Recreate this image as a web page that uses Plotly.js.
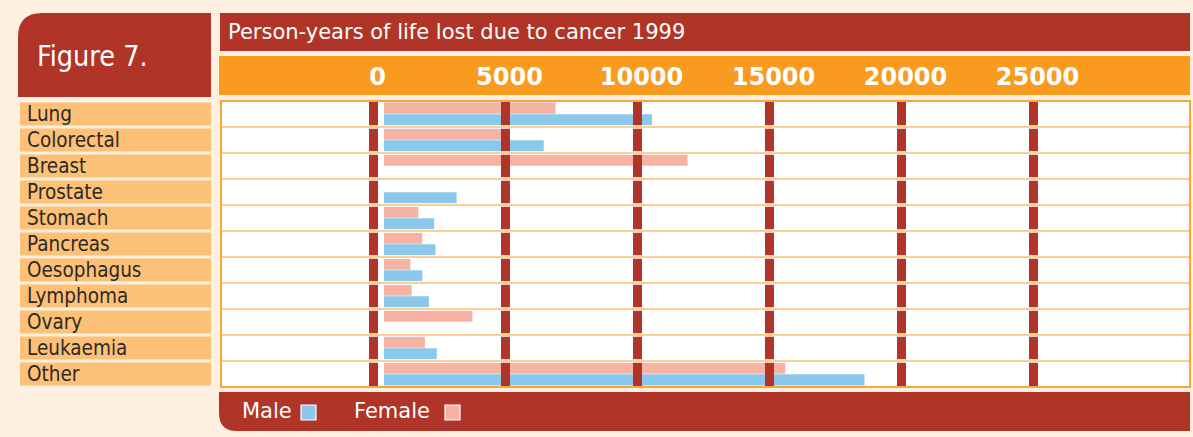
<!DOCTYPE html>
<html><head><meta charset="utf-8">
<script src="https://cdn.plot.ly/plotly-3.0.1.min.js"></script>
<style>html,body{margin:0;padding:0;background:#FDF0E1;}#chart{width:1193px;height:437px;}</style>
</head><body><div id="chart"></div>
<script>
// ---- data ----
const categories = ['Lung','Colorectal','Breast','Prostate','Stomach','Pancreas','Oesophagus','Lymphoma','Ovary','Leukaemia','Other'];
const femaleValues = [6500, 4500, 11500, null, 1300, 1450, 1000, 1050, 3350, 1550, 15200];
const maleValues   = [10150, 6050, null, 2750, 1900, 1950, 1450, 1700, null, 2000, 18200];
const tickValues = [0, 5000, 10000, 15000, 20000, 25000];
const tickLabels = ['0', '5000', '10000', '15000', '20000', '25000'];
const seriesNames = ['Male', 'Female'];
const chartTitle = 'Person-years of life lost due to cancer 1999';
const figureLabel = 'Figure 7.';

// ---- styling / geometry ----
const RED = '#B03427', ORANGE = '#F99B1E', CREAM = '#FDF0E1';
const PINK = '#F8B2A4', BLUE = '#8BC9EC', LABELBOX = '#FDC077';
const W = 1193, H = 437, L = 221, R = 1190, T = 101, B = 387;
const px = x => (x - L) / (R - L);
const py = y => (B - y) / (B - T);
const unitsPerPx = 5000 / 132;
const span = (R - L) * unitsPerPx;
const barZeroPx = 384, gridZeroPx = 373.5;
const xr = [-(barZeroPx - L) * unitsPerPx, -(barZeroPx - L) * unitsPerPx + span];
const x2r = [-(gridZeroPx - L) * unitsPerPx, -(gridZeroPx - L) * unitsPerPx + span];

const traces = [
  {type:'bar', orientation:'h', name: seriesNames[1], y: categories, x: femaleValues,
   marker:{color: PINK}, showlegend:false, hoverinfo:'skip'},
  {type:'bar', orientation:'h', name: seriesNames[0], y: categories, x: maleValues,
   marker:{color: BLUE}, showlegend:false, hoverinfo:'skip'}
];

const shapes = [];
const annotations = [];

// Figure label box (rounded top-left)
(function(){
  const x0=18,x1=211,y0=13,y1=97,r=24;
  const p = `M ${px(x0)} ${py(y1)} L ${px(x0)} ${py(y0+r)} Q ${px(x0)} ${py(y0)} ${px(x0+r)} ${py(y0)} L ${px(x1)} ${py(y0)} L ${px(x1)} ${py(y1)} Z`;
  shapes.push({type:'path', xref:'paper', yref:'paper', path:p, fillcolor:RED, line:{width:0}, layer:'below'});
})();
// Title bar
shapes.push({type:'rect', xref:'paper', yref:'paper', x0:px(220), x1:px(1190), y0:py(51), y1:py(13), fillcolor:RED, line:{width:0}, layer:'below'});
// Orange axis band
shapes.push({type:'rect', xref:'paper', yref:'paper', x0:px(219), x1:px(1190), y0:py(95), y1:py(56), fillcolor:ORANGE, line:{width:0}, layer:'below'});
// Legend bar (rounded bottom-left)
(function(){
  const x0=219,x1=1190,y0=392,y1=431,r=18;
  const p = `M ${px(x0)} ${py(y0)} L ${px(x1)} ${py(y0)} L ${px(x1)} ${py(y1)} L ${px(x0+r)} ${py(y1)} Q ${px(x0)} ${py(y1)} ${px(x0)} ${py(y1-r)} Z`;
  shapes.push({type:'path', xref:'paper', yref:'paper', path:p, fillcolor:RED, line:{width:0}, layer:'below'});
})();

// Category label boxes + texts
categories.forEach((c, i) => {
  shapes.push({type:'rect', xref:'paper', yref:'y', x0:px(20), x1:px(211), y0:i-0.44, y1:i+0.44,
    fillcolor:LABELBOX, line:{width:0}, layer:'below'});
  annotations.push({xref:'paper', yref:'y', x:px(25), y:i, text:c, showarrow:false,
    xanchor:'left', yanchor:'middle', font:{family:'DejaVu Sans Condensed', size:20.5, color:'#2E2A26'}});
});

// Thick red gridlines above bars
tickValues.forEach(v => {
  shapes.push({type:'line', xref:'x2', yref:'paper', x0:v, x1:v, y0:0, y1:1, line:{color:RED, width:9}, layer:'above'});
});
// Row separators
for (let i = 0; i < categories.length - 1; i++) {
  shapes.push({type:'line', xref:'paper', yref:'y', x0:0, x1:1, y0:i+0.5, y1:i+0.5, line:{color:'#FFFFFF', width:3.5}, layer:'above'});
  shapes.push({type:'line', xref:'paper', yref:'y', x0:0, x1:1, y0:i+0.5, y1:i+0.5, line:{color:'#FDCF95', width:2.2}, layer:'above'});
}
// Plot border
shapes.push({type:'rect', xref:'paper', yref:'paper', x0:0, x1:1, y0:0, y1:1, line:{color:'#F8A740', width:2}, fillcolor:'rgba(0,0,0,0)', layer:'above'});

// Title texts
annotations.push({xref:'paper', yref:'paper', x:px(35), y:py(56), text:figureLabel, showarrow:false,
  xanchor:'left', yanchor:'middle', font:{family:'DejaVu Sans Condensed', size:28.5, color:'#FFFFFF'}});
annotations.push({xref:'paper', yref:'paper', x:px(226), y:py(32), text:chartTitle, showarrow:false,
  xanchor:'left', yanchor:'middle', font:{family:'DejaVu Sans', size:21, color:'#FFFFFF'}});

// Legend
const legendItems = [
  {name: seriesNames[0], color: BLUE, tx: 240, sx: 301},
  {name: seriesNames[1], color: PINK, tx: 352, sx: 445}
];
legendItems.forEach(it => {
  annotations.push({xref:'paper', yref:'paper', x:px(it.tx), y:py(411), text:it.name, showarrow:false,
    xanchor:'left', yanchor:'middle', font:{family:'DejaVu Sans', size:21, color:'#FFFFFF'}});
  shapes.push({type:'rect', xref:'paper', yref:'paper', x0:px(it.sx), x1:px(it.sx+15), y0:py(420), y1:py(405),
    fillcolor:it.color, line:{color:'#FFFFFF', width:1.2}, layer:'above'});
});

const layout = {
  width: W, height: H,
  margin: {l: L, r: W - R, t: T, b: H - B, pad: 0},
  paper_bgcolor: CREAM, plot_bgcolor: '#FFFFFF',
  barmode: 'group', bargap: 0.1, bargroupgap: 0.05,
  showlegend: false,
  xaxis: {range: xr, showgrid:false, zeroline:false, showticklabels:false, ticks:'', fixedrange:true},
  xaxis2: {range: x2r, overlaying:'x', side:'top', anchor:'y', tickvals: tickValues, ticktext: tickLabels,
    showgrid:false, zeroline:false, ticks:'', ticklabelstandoff: 10, ticklabelshift: 4,
    tickfont:{family:'DejaVu Sans', size:24, color:'#FFFFFF', weight:'bold'}},
  yaxis: {type:'category', range:[categories.length - 0.5, -0.5], showgrid:false, zeroline:false,
    showticklabels:false, ticks:'', fixedrange:true},
  shapes, annotations
};

// invisible trace on x2 so the tick axis renders
traces.push({type:'scatter', x:[tickValues[0]], y:[categories[0]], xaxis:'x2', yaxis:'y', mode:'markers',
  marker:{opacity:0}, showlegend:false, hoverinfo:'skip'});

Plotly.newPlot('chart', traces, layout, {staticPlot:true, displayModeBar:false});
</script></body></html>
